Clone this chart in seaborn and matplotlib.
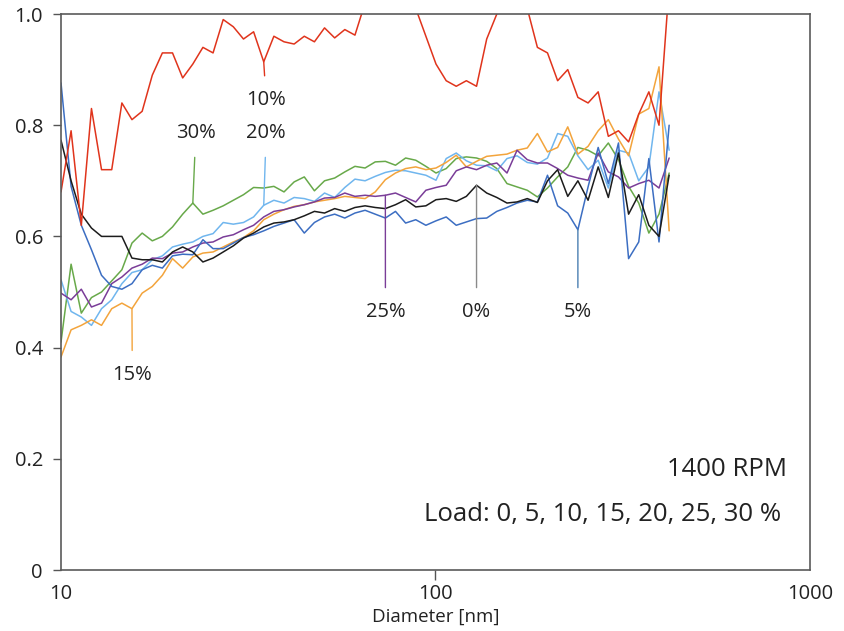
import numpy as np
import pandas as pd
import matplotlib
matplotlib.use("Agg")
import matplotlib.pyplot as plt
import seaborn as sns

# ---------------- data ----------------
diameter_nm = [10.0, 10.64, 11.33, 12.06, 12.83, 13.66, 14.54, 15.47, 16.47, 17.53,
               18.65, 19.85, 21.13, 22.49, 23.93, 25.47, 27.11, 28.85, 30.71, 32.68,
               34.78, 37.02, 39.40, 41.93, 44.63, 47.50, 50.55, 53.80, 57.26, 60.94,
               64.86, 69.03, 73.47, 78.19, 83.22, 88.57, 94.26, 100.3, 106.8, 113.6,
               120.9, 128.7, 137.0, 145.8, 155.2, 165.1, 175.8, 187.1, 199.1, 211.9,
               225.5, 240.0, 255.5, 271.9, 289.4, 308.0, 327.8, 348.9, 371.3, 395.2, 420.6]

load_0 = [0.773, 0.700, 0.640, 0.615, 0.600, 0.600, 0.600, 0.561, 0.558, 0.558,
          0.554, 0.572, 0.581, 0.572, 0.554, 0.561, 0.572, 0.583, 0.597, 0.606,
          0.617, 0.624, 0.626, 0.630, 0.637, 0.645, 0.642, 0.650, 0.645, 0.652,
          0.655, 0.652, 0.650, 0.657, 0.666, 0.653, 0.655, 0.666, 0.668, 0.663,
          0.672, 0.692, 0.678, 0.670, 0.660, 0.662, 0.668, 0.661, 0.700, 0.720,
          0.672, 0.700, 0.665, 0.725, 0.670, 0.750, 0.640, 0.675, 0.620, 0.600, 0.710]

load_5 = [0.876, 0.690, 0.620, 0.576, 0.530, 0.510, 0.505, 0.515, 0.540, 0.548,
          0.543, 0.565, 0.568, 0.567, 0.594, 0.578, 0.578, 0.588, 0.598, 0.603,
          0.610, 0.618, 0.624, 0.630, 0.606, 0.625, 0.635, 0.640, 0.633, 0.642,
          0.647, 0.640, 0.633, 0.645, 0.624, 0.630, 0.620, 0.628, 0.635, 0.620,
          0.626, 0.632, 0.633, 0.645, 0.652, 0.660, 0.665, 0.662, 0.710, 0.655,
          0.642, 0.612, 0.689, 0.760, 0.695, 0.768, 0.560, 0.590, 0.740, 0.590, 0.800]

load_10 = [0.680, 0.790, 0.620, 0.830, 0.720, 0.720, 0.840, 0.810, 0.825, 0.890,
           0.930, 0.930, 0.885, 0.910, 0.940, 0.930, 0.990, 0.977, 0.955, 0.968,
           0.914, 0.960, 0.950, 0.946, 0.960, 0.950, 0.975, 0.957, 0.972, 0.962,
           1.020, 1.050, 1.070, 1.060, 1.040, 1.010, 0.960, 0.910, 0.880, 0.870,
           0.880, 0.870, 0.955, 1.000, 1.030, 1.010, 1.010, 0.940, 0.930, 0.880,
           0.900, 0.850, 0.840, 0.860, 0.780, 0.790, 0.770, 0.820, 0.860, 0.800, 1.050]

load_15 = [0.383, 0.432, 0.440, 0.450, 0.440, 0.470, 0.480, 0.470, 0.498, 0.510,
           0.530, 0.560, 0.543, 0.563, 0.570, 0.572, 0.581, 0.590, 0.598, 0.610,
           0.630, 0.640, 0.648, 0.654, 0.657, 0.662, 0.665, 0.668, 0.672, 0.670,
           0.668, 0.680, 0.702, 0.714, 0.722, 0.725, 0.720, 0.723, 0.733, 0.746,
           0.725, 0.735, 0.744, 0.746, 0.748, 0.755, 0.759, 0.785, 0.752, 0.760,
           0.797, 0.748, 0.762, 0.790, 0.810, 0.775, 0.745, 0.820, 0.830, 0.905, 0.610]

load_20 = [0.522, 0.465, 0.455, 0.440, 0.470, 0.486, 0.515, 0.535, 0.540, 0.558,
           0.565, 0.581, 0.586, 0.590, 0.600, 0.605, 0.625, 0.622, 0.625, 0.635,
           0.656, 0.665, 0.660, 0.670, 0.668, 0.663, 0.678, 0.670, 0.688, 0.703,
           0.700, 0.708, 0.715, 0.719, 0.718, 0.714, 0.710, 0.701, 0.740, 0.750,
           0.736, 0.728, 0.727, 0.718, 0.740, 0.745, 0.733, 0.730, 0.741, 0.785,
           0.780, 0.745, 0.720, 0.737, 0.687, 0.755, 0.750, 0.700, 0.725, 0.860, 0.755]

load_25 = [0.498, 0.486, 0.505, 0.473, 0.480, 0.515, 0.527, 0.543, 0.550, 0.561,
           0.560, 0.570, 0.572, 0.581, 0.588, 0.590, 0.599, 0.603, 0.612, 0.620,
           0.635, 0.645, 0.648, 0.653, 0.657, 0.662, 0.669, 0.670, 0.678, 0.672,
           0.674, 0.672, 0.674, 0.678, 0.670, 0.662, 0.683, 0.688, 0.692, 0.718,
           0.725, 0.720, 0.728, 0.732, 0.714, 0.755, 0.738, 0.732, 0.732, 0.722,
           0.710, 0.705, 0.701, 0.750, 0.716, 0.707, 0.687, 0.695, 0.701, 0.687, 0.741]

load_30 = [0.410, 0.550, 0.462, 0.490, 0.500, 0.520, 0.540, 0.588, 0.606, 0.592,
           0.600, 0.617, 0.640, 0.660, 0.640, 0.647, 0.655, 0.665, 0.675, 0.688,
           0.687, 0.690, 0.680, 0.698, 0.707, 0.682, 0.700, 0.705, 0.716, 0.726,
           0.723, 0.734, 0.735, 0.728, 0.741, 0.737, 0.726, 0.714, 0.722, 0.740,
           0.743, 0.741, 0.735, 0.722, 0.695, 0.689, 0.683, 0.671, 0.687, 0.707,
           0.725, 0.760, 0.755, 0.745, 0.768, 0.738, 0.690, 0.660, 0.606, 0.640, 0.714]

load_names = ["30%", "20%", "15%", "25%", "5%", "0%", "10%"]
series = [load_30, load_20, load_15, load_25, load_5, load_0, load_10]
colors = {"0%": "#1c1c1c", "5%": "#3c6ec2", "10%": "#e0341c", "15%": "#f3a43c",
          "20%": "#70b6ee", "25%": "#7a3d98", "30%": "#68a94a"}

y_ticks = [0, 0.2, 0.4, 0.6, 0.8, 1.0]
y_ticklabels = ["0", "0.2", "0.4", "0.6", "0.8", "1.0"]
x_ticklabels = ["10", "100", "1000"]

df = pd.concat([pd.DataFrame({"Diameter": diameter_nm, "value": s, "Load": n})
                for n, s in zip(load_names, series)], ignore_index=True)

# ---------------- plot ----------------
sns.set_style("white")
plt.rcParams["font.family"] = ["Open Sans", "DejaVu Sans"]

fig = plt.figure(figsize=(8.45, 6.31), dpi=100)
ax = fig.add_axes([61/845, 1-570/631, (810-61)/845, (570-14)/631])

sns.lineplot(data=df, x="Diameter", y="value", hue="Load", palette=colors,
             hue_order=load_names, legend=False, sort=False, lw=1.1, ax=ax)

ax.set_xscale("log")
ax.set_xlim(10, 1000)
ax.set_ylim(0, 1.0)

ax.set_yticks(y_ticks)
ax.set_yticklabels(y_ticklabels)
ax.set_xticks([10, 100, 1000])
ax.set_xticklabels(x_ticklabels)
ax.xaxis.set_minor_locator(matplotlib.ticker.NullLocator())
ax.tick_params(axis="y", direction="out", length=6, width=1, color="#555555",
               labelsize=14.5, labelcolor="#222222", pad=7, left=True)
ax.tick_params(axis="x", direction="out", length=7, width=1, color="#555555",
               labelsize=14.5, labelcolor="#222222", pad=3, bottom=True)
for t, lab in zip(ax.xaxis.get_major_ticks(), x_ticklabels):
    if lab != "100":
        t.tick1line.set_visible(False)

for sp in ax.spines.values():
    sp.set_color("#5a5a5a")
    sp.set_linewidth(1.2)

ax.set_xlabel("Diameter [nm]", fontsize=13.5, color="#222222", labelpad=3)
ax.set_ylabel("")

# ---------------- annotations ----------------
def label(name, idx, data, tx, ty, lead_color):
    ax.annotate(name, xy=(diameter_nm[idx], data[idx]), xytext=(tx, ty),
                textcoords="data", ha="center", va="center", fontsize=14.5,
                color="#222222",
                arrowprops=dict(arrowstyle="-", color=lead_color, lw=1.0,
                                shrinkA=8, shrinkB=0))

label("10%", 20, load_10, 35.3, 0.845, colors["10%"])
label("30%", 13, load_30, 22.9, 0.786, colors["30%"])
label("20%", 20, load_20, 35.3, 0.786, colors["20%"])
label("25%", 32, load_25, 73.5, 0.464, colors["25%"])
label("0%", 41, load_0, 128.7, 0.464, "#8a8a8a")
label("5%", 51, load_5, 240.0, 0.464, "#4a7fb2")
label("15%", 7, load_15, 15.5, 0.351, colors["15%"])

ax.text(0.969, 0.18, "1400 RPM", transform=ax.transAxes, ha="right",
        va="center", fontsize=18.5, color="#222222")
ax.text(0.961, 0.10, "Load: 0, 5, 10, 15, 20, 25, 30 %", transform=ax.transAxes,
        ha="right", va="center", fontsize=18.5, color="#222222")

fig.savefig("out.png", dpi=100, facecolor="white")
